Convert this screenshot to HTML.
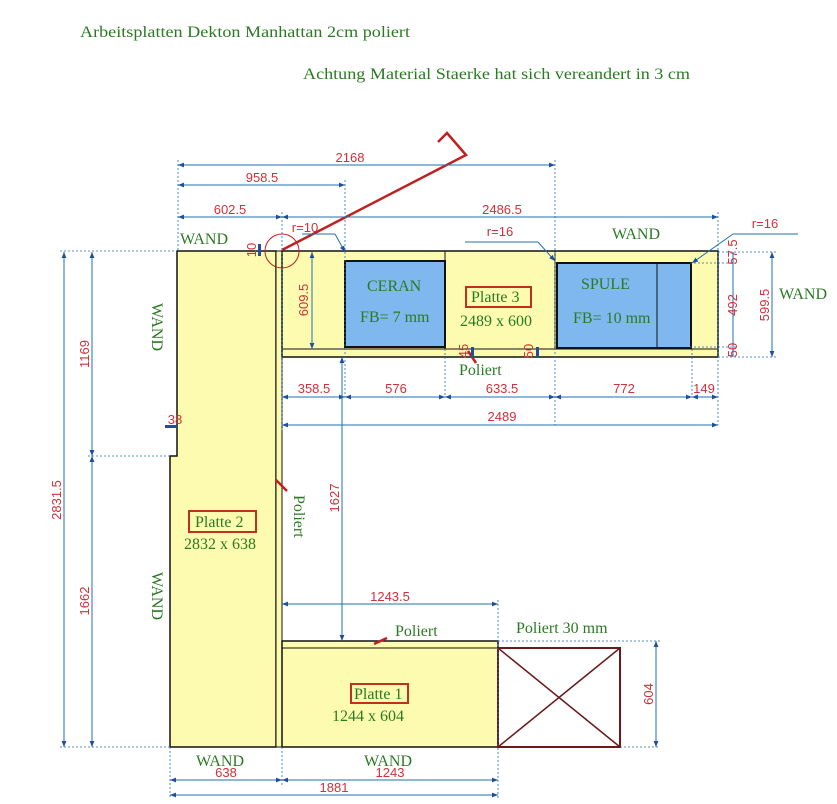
<!DOCTYPE html>
<html><head><meta charset="utf-8"><style>
body{margin:0;background:#fff}
svg{display:block}
.g{font-family:"Liberation Serif",serif;fill:#2a7a22}
.r{font-family:"Liberation Sans",sans-serif;fill:#d0303a;font-size:13px}
.d{stroke:#1f6fb3;stroke-width:1;fill:none}
.dt{stroke:#1f6fb3;stroke-width:0.8;stroke-dasharray:2,2;fill:none}
</style></head><body>
<svg width="837" height="804" viewBox="0 0 837 804" xmlns="http://www.w3.org/2000/svg">
<defs>
<marker id="a" viewBox="0 0 10 10" refX="10" refY="5" markerWidth="8" markerHeight="6" orient="auto-start-reverse"><path d="M0,1 L10,5 L0,9 z" fill="#1f4f9a"/></marker>
</defs>
<text class="g" x="80" y="37" font-size="16" textLength="330" lengthAdjust="spacingAndGlyphs">Arbeitsplatten Dekton Manhattan 2cm poliert</text>
<text class="g" x="303" y="79" font-size="16" textLength="387" lengthAdjust="spacingAndGlyphs">Achtung Material Staerke hat sich vereandert in 3 cm</text>

<path d="M177,251 H276 V747 H170 V456 H177 Z" fill="#fdfbb0" stroke="#111" stroke-width="1.5"/>
<rect x="276" y="251" width="6" height="496" fill="#fdfbb0" stroke="#111" stroke-width="1"/>
<rect x="282" y="251" width="436" height="106" fill="#fdfbb0" stroke="#111" stroke-width="1.5"/>
<line x1="282" y1="349" x2="718" y2="349" stroke="#111" stroke-width="1"/>
<rect x="282" y="641" width="216" height="106" fill="#fdfbb0" stroke="#111" stroke-width="1.5"/>
<line x1="282" y1="648" x2="498" y2="648" stroke="#111" stroke-width="1"/>
<line x1="445" y1="251" x2="445" y2="349" stroke="#111"/>
<line x1="555" y1="251" x2="555" y2="349" stroke="#111"/>
<rect x="345" y="261" width="100" height="86" fill="#7fb8ee" stroke="#111" stroke-width="2"/>
<rect x="557" y="263" width="134" height="85" fill="#7fb8ee" stroke="#111" stroke-width="2"/>
<line x1="657" y1="263" x2="657" y2="348" stroke="#111"/>
<rect x="498" y="648" width="122" height="99" fill="none" stroke="#6b1a1a" stroke-width="2"/>
<line x1="498" y1="648" x2="620" y2="747" stroke="#6b1a1a" stroke-width="1.5"/>
<line x1="620" y1="648" x2="498" y2="747" stroke="#6b1a1a" stroke-width="1.5"/>
<rect x="351" y="684" width="57" height="19" fill="none" stroke="#c0301e" stroke-width="2"/>
<text class="g" x="354" y="699" font-size="16">Platte 1</text>
<text class="g" x="332" y="721" font-size="16">1244 x 604</text>
<rect x="189" y="511" width="67" height="21" fill="none" stroke="#c0301e" stroke-width="2"/>
<text class="g" x="195" y="527" font-size="16">Platte 2</text>
<text class="g" x="184" y="549" font-size="16">2832 x 638</text>
<rect x="466" y="287" width="65" height="20" fill="none" stroke="#c0301e" stroke-width="2"/>
<text class="g" x="471" y="302" font-size="16">Platte 3</text>
<text class="g" x="460" y="326" font-size="16">2489 x 600</text>
<text class="g" x="367" y="291" font-size="16">CERAN</text>
<text class="g" x="360" y="322" font-size="16">FB= 7 mm</text>
<text class="g" x="581" y="289" font-size="16">SPULE</text>
<text class="g" x="573" y="323" font-size="16">FB= 10 mm</text>
<text class="g" x="180" y="244" font-size="16">WAND</text>
<text class="g" x="612" y="239" font-size="16">WAND</text>
<text class="g" x="779" y="299" font-size="16">WAND</text>
<text class="g" x="196" y="766" font-size="16">WAND</text>
<text class="g" x="364" y="766" font-size="16">WAND</text>
<text class="g" font-size="16" transform="translate(152,303) rotate(90)">WAND</text>
<text class="g" font-size="16" transform="translate(152,572) rotate(90)">WAND</text>
<text class="g" font-size="16" transform="translate(294,495) rotate(90)">Poliert</text>
<text class="g" x="459" y="375" font-size="16">Poliert</text>
<text class="g" x="395" y="636" font-size="16">Poliert</text>
<text class="g" x="516" y="633" font-size="16">Poliert 30 mm</text>
<g stroke="#c02020" stroke-width="2.5">
<line x1="468" y1="351" x2="476" y2="363"/><line x1="276" y1="480" x2="287" y2="491"/><line x1="374" y1="644" x2="387" y2="638"/></g>
<polyline points="282,250 466,155 447,133 438,142" fill="none" stroke="#c02020" stroke-width="2.5"/>
<circle cx="282" cy="251" r="17" fill="none" stroke="#c02020" stroke-width="1"/>
<g>
<line class="d" x1="178" y1="165" x2="555" y2="165" marker-start="url(#a)" marker-end="url(#a)"/>
<line class="d" x1="178" y1="185" x2="345" y2="185" marker-start="url(#a)" marker-end="url(#a)"/>
<line class="d" x1="178" y1="217" x2="282" y2="217" marker-start="url(#a)" marker-end="url(#a)"/>
<line class="d" x1="282" y1="217" x2="718" y2="217" marker-start="url(#a)" marker-end="url(#a)"/>
<line class="dt" x1="178" y1="160" x2="178" y2="250"/><line class="dt" x1="555" y1="160" x2="555" y2="425"/>
<line class="dt" x1="345" y1="180" x2="345" y2="397"/><line class="dt" x1="282" y1="212" x2="282" y2="430"/>
<line class="dt" x1="718" y1="212" x2="718" y2="425"/><line class="dt" x1="445" y1="349" x2="445" y2="397"/>
<line class="dt" x1="692" y1="349" x2="692" y2="397"/>
<line class="d" x1="64" y1="252" x2="64" y2="747" marker-start="url(#a)" marker-end="url(#a)"/>
<line class="d" x1="92" y1="252" x2="92" y2="456" marker-start="url(#a)" marker-end="url(#a)"/>
<line class="d" x1="92" y1="456" x2="92" y2="747" marker-start="url(#a)" marker-end="url(#a)"/>
<line class="dt" x1="60" y1="251" x2="177" y2="251"/><line class="dt" x1="88" y1="456" x2="170" y2="456"/>
<line class="dt" x1="60" y1="747" x2="170" y2="747"/>
<line class="d" x1="282" y1="397" x2="345" y2="397" marker-start="url(#a)" marker-end="url(#a)"/>
<line class="d" x1="345" y1="397" x2="445" y2="397" marker-start="url(#a)" marker-end="url(#a)"/>
<line class="d" x1="445" y1="397" x2="555" y2="397" marker-start="url(#a)" marker-end="url(#a)"/>
<line class="d" x1="555" y1="397" x2="692" y2="397" marker-start="url(#a)" marker-end="url(#a)"/>
<line class="d" x1="692" y1="397" x2="718" y2="397" marker-start="url(#a)" marker-end="url(#a)"/>
<line class="d" x1="282" y1="425" x2="718" y2="425" marker-start="url(#a)" marker-end="url(#a)"/>
<line class="d" x1="342" y1="357" x2="342" y2="641" marker-start="url(#a)" marker-end="url(#a)"/>
<line class="d" x1="282" y1="604" x2="498" y2="604" marker-start="url(#a)" marker-end="url(#a)"/>
<line class="dt" x1="498" y1="600" x2="498" y2="798"/><line class="dt" x1="282" y1="747" x2="282" y2="785"/>
<line class="dt" x1="170" y1="747" x2="170" y2="798"/>
<line class="d" x1="656" y1="641" x2="656" y2="747" marker-start="url(#a)" marker-end="url(#a)"/>
<line class="dt" x1="498" y1="641" x2="660" y2="641"/><line class="dt" x1="620" y1="747" x2="660" y2="747"/>
<line class="d" x1="170" y1="780" x2="282" y2="780" marker-start="url(#a)" marker-end="url(#a)"/>
<line class="d" x1="282" y1="780" x2="498" y2="780" marker-start="url(#a)" marker-end="url(#a)"/>
<line class="d" x1="170" y1="795" x2="498" y2="795" marker-start="url(#a)" marker-end="url(#a)"/>
<line class="d" x1="772" y1="252" x2="772" y2="357" marker-start="url(#a)" marker-end="url(#a)"/>
<line class="d" x1="733" y1="252" x2="733" y2="357"/>
<line class="dt" x1="718" y1="252" x2="776" y2="252"/><line class="dt" x1="718" y1="357" x2="776" y2="357"/>
<line class="dt" x1="690" y1="263" x2="736" y2="263"/><line class="dt" x1="690" y1="347" x2="736" y2="347"/>
<line class="d" x1="312" y1="252" x2="312" y2="349" marker-start="url(#a)" marker-end="url(#a)"/>
<line class="d" x1="302" y1="234" x2="335" y2="234"/><line class="d" x1="335" y1="234" x2="345" y2="252" marker-end="url(#a)"/>
<line class="d" x1="465" y1="242" x2="538" y2="242"/><line class="d" x1="538" y1="242" x2="555" y2="261" marker-end="url(#a)"/>
<line class="d" x1="798" y1="234" x2="733" y2="234"/><line class="d" x1="733" y1="234" x2="692" y2="263" marker-end="url(#a)"/>
<rect x="471" y="347" width="3" height="10" fill="#1f4f9a"/><rect x="536" y="347" width="3" height="10" fill="#1f4f9a"/>
<rect x="258" y="244" width="3" height="12" fill="#1f4f9a"/><rect x="165" y="425" width="12" height="3" fill="#1f4f9a"/>
</g>
<text class="r" x="350" y="162" text-anchor="middle">2168</text>
<text class="r" x="262" y="182" text-anchor="middle">958.5</text>
<text class="r" x="230" y="214" text-anchor="middle">602.5</text>
<text class="r" x="502" y="214" text-anchor="middle">2486.5</text>
<text class="r" x="305" y="232" text-anchor="middle">r=10</text>
<text class="r" x="500" y="236" text-anchor="middle">r=16</text>
<text class="r" x="765" y="228" text-anchor="middle">r=16</text>
<text class="r" x="314" y="393" text-anchor="middle">358.5</text>
<text class="r" x="396" y="393" text-anchor="middle">576</text>
<text class="r" x="502" y="393" text-anchor="middle">633.5</text>
<text class="r" x="624" y="393" text-anchor="middle">772</text>
<text class="r" x="704" y="393" text-anchor="middle">149</text>
<text class="r" x="502" y="421" text-anchor="middle">2489</text>
<text class="r" x="390" y="601" text-anchor="middle">1243.5</text>
<text class="r" x="226" y="777" text-anchor="middle">638</text>
<text class="r" x="390" y="777" text-anchor="middle">1243</text>
<text class="r" x="334" y="792" text-anchor="middle">1881</text>
<text class="r" x="175" y="424" text-anchor="middle">38</text>
<text class="r" transform="translate(61,500) rotate(-90)" text-anchor="middle">2831.5</text>
<text class="r" transform="translate(89,354) rotate(-90)" text-anchor="middle">1169</text>
<text class="r" transform="translate(89,601) rotate(-90)" text-anchor="middle">1662</text>
<text class="r" transform="translate(339,498) rotate(-90)" text-anchor="middle">1627</text>
<text class="r" transform="translate(308,300) rotate(-90)" text-anchor="middle">609.5</text>
<text class="r" transform="translate(653,694) rotate(-90)" text-anchor="middle">604</text>
<text class="r" transform="translate(769,305) rotate(-90)" text-anchor="middle">599.5</text>
<text class="r" transform="translate(737,305) rotate(-90)" text-anchor="middle">492</text>
<text class="r" transform="translate(737,252) rotate(-90)" text-anchor="middle">57.5</text>
<text class="r" transform="translate(737,350) rotate(-90)" text-anchor="middle">50</text>
<text class="r" transform="translate(468,351) rotate(-90)" text-anchor="middle">45</text>
<text class="r" transform="translate(533,351) rotate(-90)" text-anchor="middle">50</text>
<text class="r" transform="translate(256,250) rotate(-90)" text-anchor="middle">10</text>
</svg>
</body></html>
